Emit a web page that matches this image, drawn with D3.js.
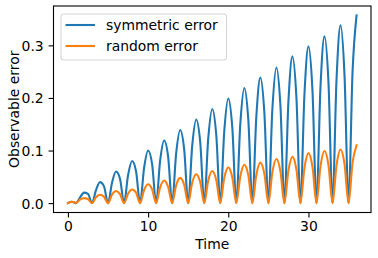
<!DOCTYPE html>
<html>
<head>
<meta charset="utf-8">
<script src="https://cdn.jsdelivr.net/npm/d3@7"></script>
<style>
  body { margin: 0; background: #fff; }
  text { font-family: "DejaVu Sans", sans-serif; }
</style>
</head>
<body>
<div id="chart"></div>
<script>
const timePoints = [
    0, 0.5, 1, 1.5, 2, 2.5, 3, 3.5, 4, 4.5, 5, 5.5, 6, 6.5, 7, 7.5, 8, 8.5, 9, 9.5,
    10, 10.5, 11, 11.5, 12, 12.5, 13, 13.5, 14, 14.5, 15, 15.5, 16, 16.5, 17, 17.5,
    18, 18.5, 19, 19.5, 20, 20.5, 21, 21.5, 22, 22.5, 23, 23.5, 24, 24.5, 25, 25.5,
    26, 26.5, 27, 27.5, 28, 28.5, 29, 29.5, 30, 30.5, 31, 31.5, 32, 32.5, 33, 33.5,
    34, 34.5, 35, 35.5, 36
];

const symmetricError = [
    0, 0.0025, 0, 0.0106, 0.020, 0.0177, 0, 0.0247, 0.040, 0.0318, 0, 0.0389, 0.060, 0.046, 0, 0.053, 0.080, 0.060, 0, 0.067,
    0.100, 0.074, 0, 0.081, 0.119, 0.088, 0, 0.095, 0.139, 0.102, 0, 0.109, 0.159, 0.116, 0, 0.123,
    0.179, 0.130, 0, 0.137, 0.199, 0.144, 0, 0.151, 0.219, 0.158, 0, 0.165, 0.239, 0.172, 0, 0.179,
    0.258, 0.186, 0, 0.193, 0.279, 0.200, 0, 0.207, 0.298, 0.214, 0, 0.221, 0.317, 0.228, 0, 0.235,
    0.338, 0.242, 0, 0.250, 0.357
];

const randomError = [
    0, 0.0025, 0.0005, 0.0065, 0.0095, 0.0075, 0, 0.011, 0.016, 0.012, 0, 0.016, 0.023, 0.017, 0, 0.018, 0.026, 0.020, 0, 0.025,
    0.036, 0.026, 0, 0.030, 0.043, 0.031, 0, 0.034, 0.048, 0.035, 0, 0.039, 0.055, 0.040, 0, 0.043,
    0.061, 0.044, 0, 0.048, 0.068, 0.049, 0, 0.051, 0.073, 0.053, 0, 0.054, 0.077, 0.056, 0, 0.059,
    0.084, 0.061, 0, 0.062, 0.088, 0.064, 0, 0.067, 0.095, 0.069, 0, 0.070, 0.099, 0.072, 0, 0.072,
    0.102, 0.074, 0, 0.077, 0.110
];

const seriesNames = ['symmetric error', 'random error'];
const seriesColors = ['#1f77b4', '#ff7f0e'];
const xTicks = [0, 10, 20, 30];
const yTicks = [0, 0.1, 0.2, 0.3];

const svgWidth = 378;
const svgHeight = 258;
const plot = { left: 53.5, right: 371, top: 6, bottom: 212.5 };
const fontSize = 13.9;

const svg = d3.select('#chart')
    .append('svg')
    .attr('width', svgWidth)
    .attr('height', svgHeight);

const series = [symmetricError, randomError].map((values, i) => ({
    name: seriesNames[i],
    color: seriesColors[i],
    points: timePoints.map((t, j) => ({ t, v: values[j] }))
}));

// matplotlib-style 5% margins around the data
const xExtent = d3.extent(timePoints);
const xPad = (xExtent[1] - xExtent[0]) * 0.05;
const yMax = d3.max([...symmetricError, ...randomError]);
const yMin = d3.min([...symmetricError, ...randomError]);
const yPad = (yMax - yMin) * 0.05;

const xScale = d3.scaleLinear()
    .domain([xExtent[0] - xPad, xExtent[1] + xPad])
    .range([plot.left, plot.right]);

const yScale = d3.scaleLinear()
    .domain([yMin - yPad, yMax + yPad])
    .range([plot.bottom, plot.top]);

const line = d3.line()
    .x(d => xScale(d.t))
    .y(d => yScale(d.v))
    .curve(d3.curveMonotoneX);

svg.append('defs').append('clipPath')
    .attr('id', 'plot-clip')
    .append('rect')
    .attr('x', plot.left)
    .attr('y', plot.top)
    .attr('width', plot.right - plot.left)
    .attr('height', plot.bottom - plot.top);

svg.append('g')
    .attr('clip-path', 'url(#plot-clip)')
    .selectAll('path')
    .data(series)
    .join('path')
    .attr('d', d => line(d.points))
    .attr('fill', 'none')
    .attr('stroke', d => d.color)
    .attr('stroke-width', 2.1)
    .attr('stroke-linejoin', 'round')
    .attr('stroke-linecap', 'square');

const xAxisGroup = svg.append('g')
    .attr('transform', `translate(0, ${plot.bottom})`)
    .call(d3.axisBottom(xScale)
        .tickValues(xTicks)
        .tickFormat(d3.format('d'))
        .tickSize(4.9)
        .tickPadding(3.5));

const yAxisGroup = svg.append('g')
    .attr('transform', `translate(${plot.left}, 0)`)
    .call(d3.axisLeft(yScale)
        .tickValues(yTicks)
        .tickFormat(d3.format('.1f'))
        .tickSize(4.9)
        .tickPadding(4.9));

[xAxisGroup, yAxisGroup].forEach(g => {
    g.select('.domain').remove();
    g.selectAll('.tick line').attr('stroke', '#000').attr('stroke-width', 1.1);
    g.selectAll('.tick text')
        .attr('fill', '#000')
        .style('font-size', `${fontSize}px`)
        .style('font-family', '"DejaVu Sans", sans-serif');
});
yAxisGroup.selectAll('.tick text').attr('dy', '0.36em');

svg.append('rect')
    .attr('x', plot.left)
    .attr('y', plot.top)
    .attr('width', plot.right - plot.left)
    .attr('height', plot.bottom - plot.top)
    .attr('fill', 'none')
    .attr('stroke', '#000')
    .attr('stroke-width', 1.1);

svg.append('text')
    .attr('x', (plot.left + plot.right) / 2)
    .attr('y', 248.5)
    .attr('text-anchor', 'middle')
    .style('font-size', `${fontSize}px`)
    .text('Time');

svg.append('text')
    .attr('transform', `translate(18.5, ${(plot.top + plot.bottom) / 2}) rotate(-90)`)
    .attr('text-anchor', 'middle')
    .style('font-size', `${fontSize}px`)
    .text('Observable error');

// legend
const legend = svg.append('g');

legend.append('rect')
    .attr('x', 61)
    .attr('y', 14)
    .attr('width', 165.5)
    .attr('height', 46)
    .attr('rx', 3)
    .attr('fill', '#fff')
    .attr('fill-opacity', 0.8)
    .attr('stroke', '#d6d6d6')
    .attr('stroke-width', 1.1);

const legendItems = legend.selectAll('g.item')
    .data(series)
    .join('g')
    .attr('class', 'item')
    .attr('transform', (d, i) => `translate(0, ${25 + i * 21})`);

legendItems.append('line')
    .attr('x1', 65.5)
    .attr('x2', 95)
    .attr('stroke', d => d.color)
    .attr('stroke-width', 2.1);

legendItems.append('text')
    .attr('x', 106)
    .attr('dy', '0.36em')
    .style('font-size', `${fontSize}px`)
    .text(d => d.name);
</script>
</body>
</html>
